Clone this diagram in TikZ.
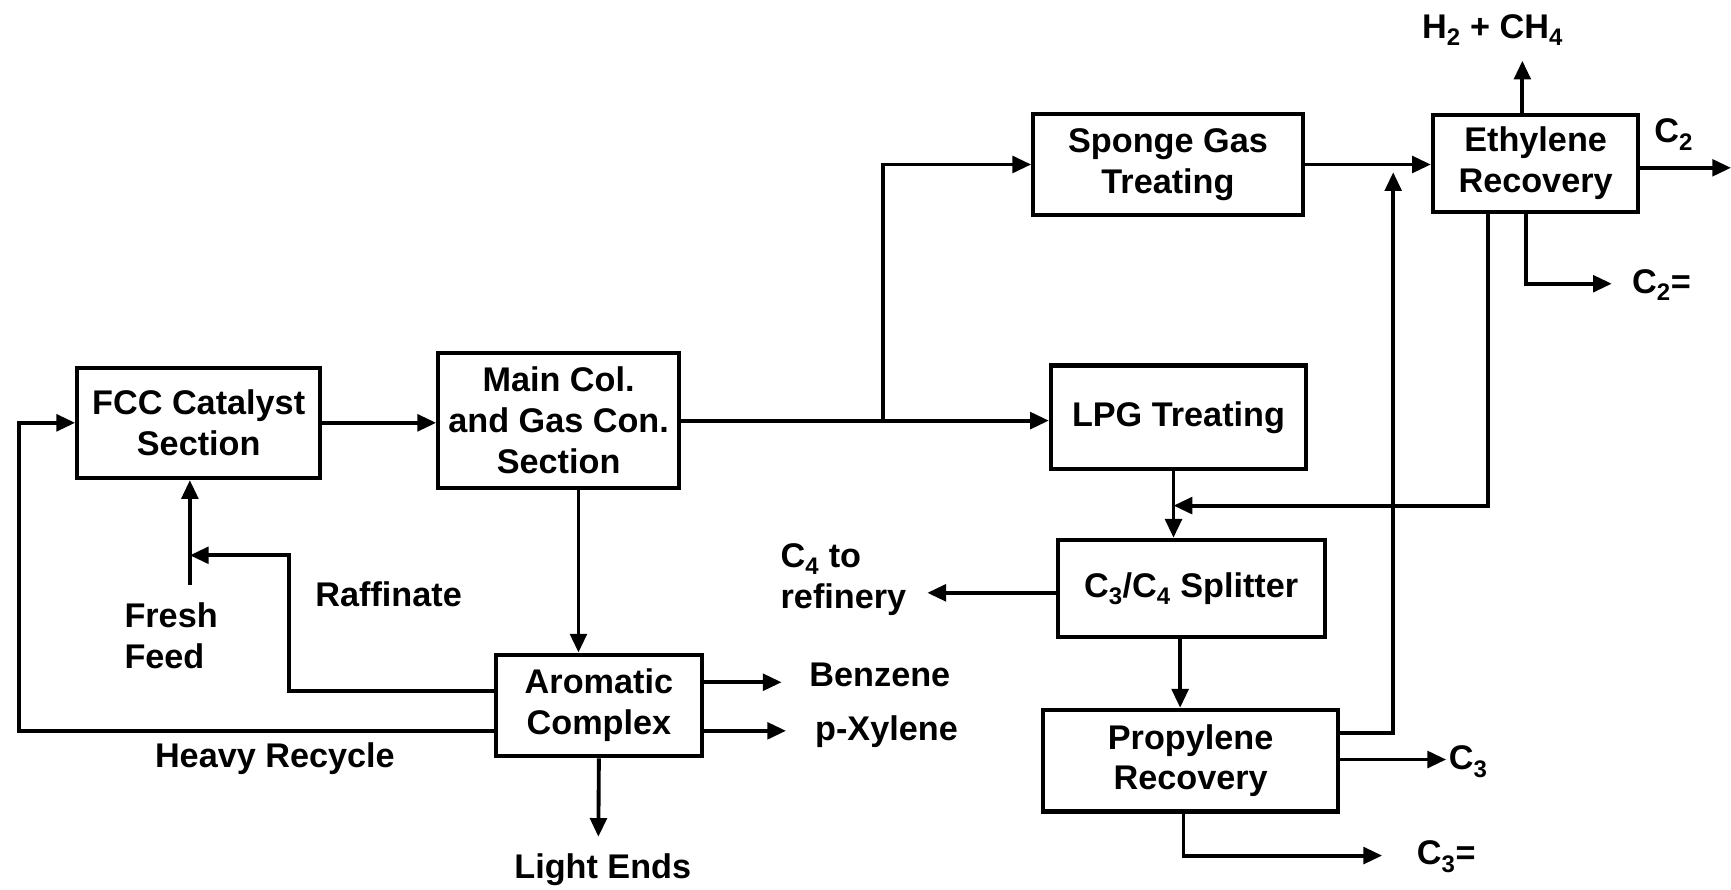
\documentclass[tikz,border=0pt]{standalone}
\usepackage{fontspec}
\setmainfont{Liberation Sans}
\usetikzlibrary{arrows.meta}
\begin{document}
\begin{tikzpicture}[x=1pt,y=-1pt,
  every node/.style={font=\fontsize{31}{37}\selectfont\bfseries},
  blk/.style={draw,line width=3.8pt,align=center,inner sep=0pt},
  lbl/.style={inner sep=0pt},
  flow/.style={line width=3.5pt,-{Triangle[length=17pt,width=15pt]}},
  plain/.style={line width=3.5pt}]
\useasboundingbox[fill=white] (0,0) rectangle (1568,806);
% boxes
\node[blk,minimum width=220pt,minimum height=100pt] (fcc) at (180,383) {FCC Catalyst\\Section};
\node[blk,minimum width=218pt,minimum height=122pt] (main) at (506,381) {Main Col.\\and Gas Con.\\Section};
\node[blk,minimum width=244pt,minimum height=92pt] (sponge) at (1058,149) {Sponge Gas\\Treating};
\node[blk,minimum width=231pt,minimum height=94pt] (lpg) at (1067.5,378) {LPG Treating};
\node[blk,minimum width=186pt,minimum height=88pt] (eth) at (1391,148) {Ethylene\\Recovery};
\node[blk,minimum width=242pt,minimum height=88pt] (split) at (1079,533) {C\textsubscript{3}/C\textsubscript{4} Splitter};
\node[blk,minimum width=267pt,minimum height=92pt] (prop) at (1078.5,689) {Propylene\\Recovery};
\node[blk,minimum width=187pt,minimum height=92pt] (arom) at (542.5,639) {Aromatic\\Complex};
% labels
\node[lbl] (h2) at (1352,27) {H\textsubscript{2} + CH\textsubscript{4}};
\node[lbl] (c2) at (1516,122) {C\textsubscript{2}};
\node[lbl] (c2eq) at (1505,258) {C\textsubscript{2}=};
\node[lbl,align=left] (c4) at (764,525) {C\textsubscript{4} to\\refinery};
\node[lbl] (bz) at (797,611) {Benzene};
\node[lbl] (px) at (803,663) {p-Xylene};
\node[lbl] (le) at (546,788) {Light Ends};
\node[lbl] (raff) at (352,538) {Raffinate};
\node[lbl,align=left] (fresh) at (155,576) {Fresh\\Feed};
\node[lbl] (heavy) at (249,687) {Heavy Recycle};
\node[lbl] (c3) at (1330,690) {C\textsubscript{3}};
\node[lbl] (c3eq) at (1310,776) {C\textsubscript{3}=};
% coordinates
\coordinate (j1) at (800,381);
\coordinate (h2end) at (1379,55);
\coordinate (c2end) at (1568,152);
\coordinate (c2eqend) at (1460,257);
\coordinate (recy) at (1063,458);
\coordinate (c4end) at (840,537);
\coordinate (upend) at (1262,156);
\coordinate (c3end) at (1310,688);
\coordinate (c3eqend) at (1252,775);
\coordinate (bzend) at (708,618);
\coordinate (pxend) at (712,662);
\coordinate (leend) at (542,758);
\coordinate (rfcorner) at (262,503);
\coordinate (rfend) at (172,503);
\coordinate (ff) at (172,530);
\coordinate (hr) at (17,500);
% connectors
\draw[flow] (fcc.east) -- (main.west |- fcc.east);
\draw[plain] (main.east) -- (j1);
\draw[flow] (j1) -- (lpg.west |- j1);
\draw[flow] (j1) |- (sponge.west);
\draw[flow] (sponge.east) -- (eth.west |- sponge.east);
\draw[flow] (eth.north -| h2end) -- (h2end);
\draw[flow] (eth.east |- c2end) -- (c2end);
\draw[flow] ([xshift=-9pt]eth.south) |- (c2eqend);
\draw[flow] ([xshift=-43pt]eth.south) |- (recy);
\draw[flow] (lpg.south -| recy) -- (split.north -| recy);
\draw[flow] (split.west |- c4end) -- (c4end);
\draw[flow] ([xshift=-10pt]split.south) -- ([xshift=-9.5pt]prop.north);
\draw[flow] ([yshift=25pt]prop.east) -| (upend);
\draw[flow] (prop.east |- c3end) -- (c3end);
\draw[flow] ([xshift=-6.5pt]prop.south) |- (c3eqend);
\draw[flow] ([xshift=18pt]main.south) -- ([xshift=-18.5pt]arom.north);
\draw[flow] (arom.east |- bzend) -- (bzend);
\draw[flow] (arom.east |- pxend) -- (pxend);
\draw[flow] (arom.south) -- (leend);
\draw[flow] ([yshift=13pt]arom.west) -| (rfcorner) -- (rfend);
\draw[flow] (ff) -- (ff |- fcc.south);
\draw[flow] ([yshift=-23pt]arom.west) -| (hr) |- (fcc.west);
\end{tikzpicture}
\end{document}
